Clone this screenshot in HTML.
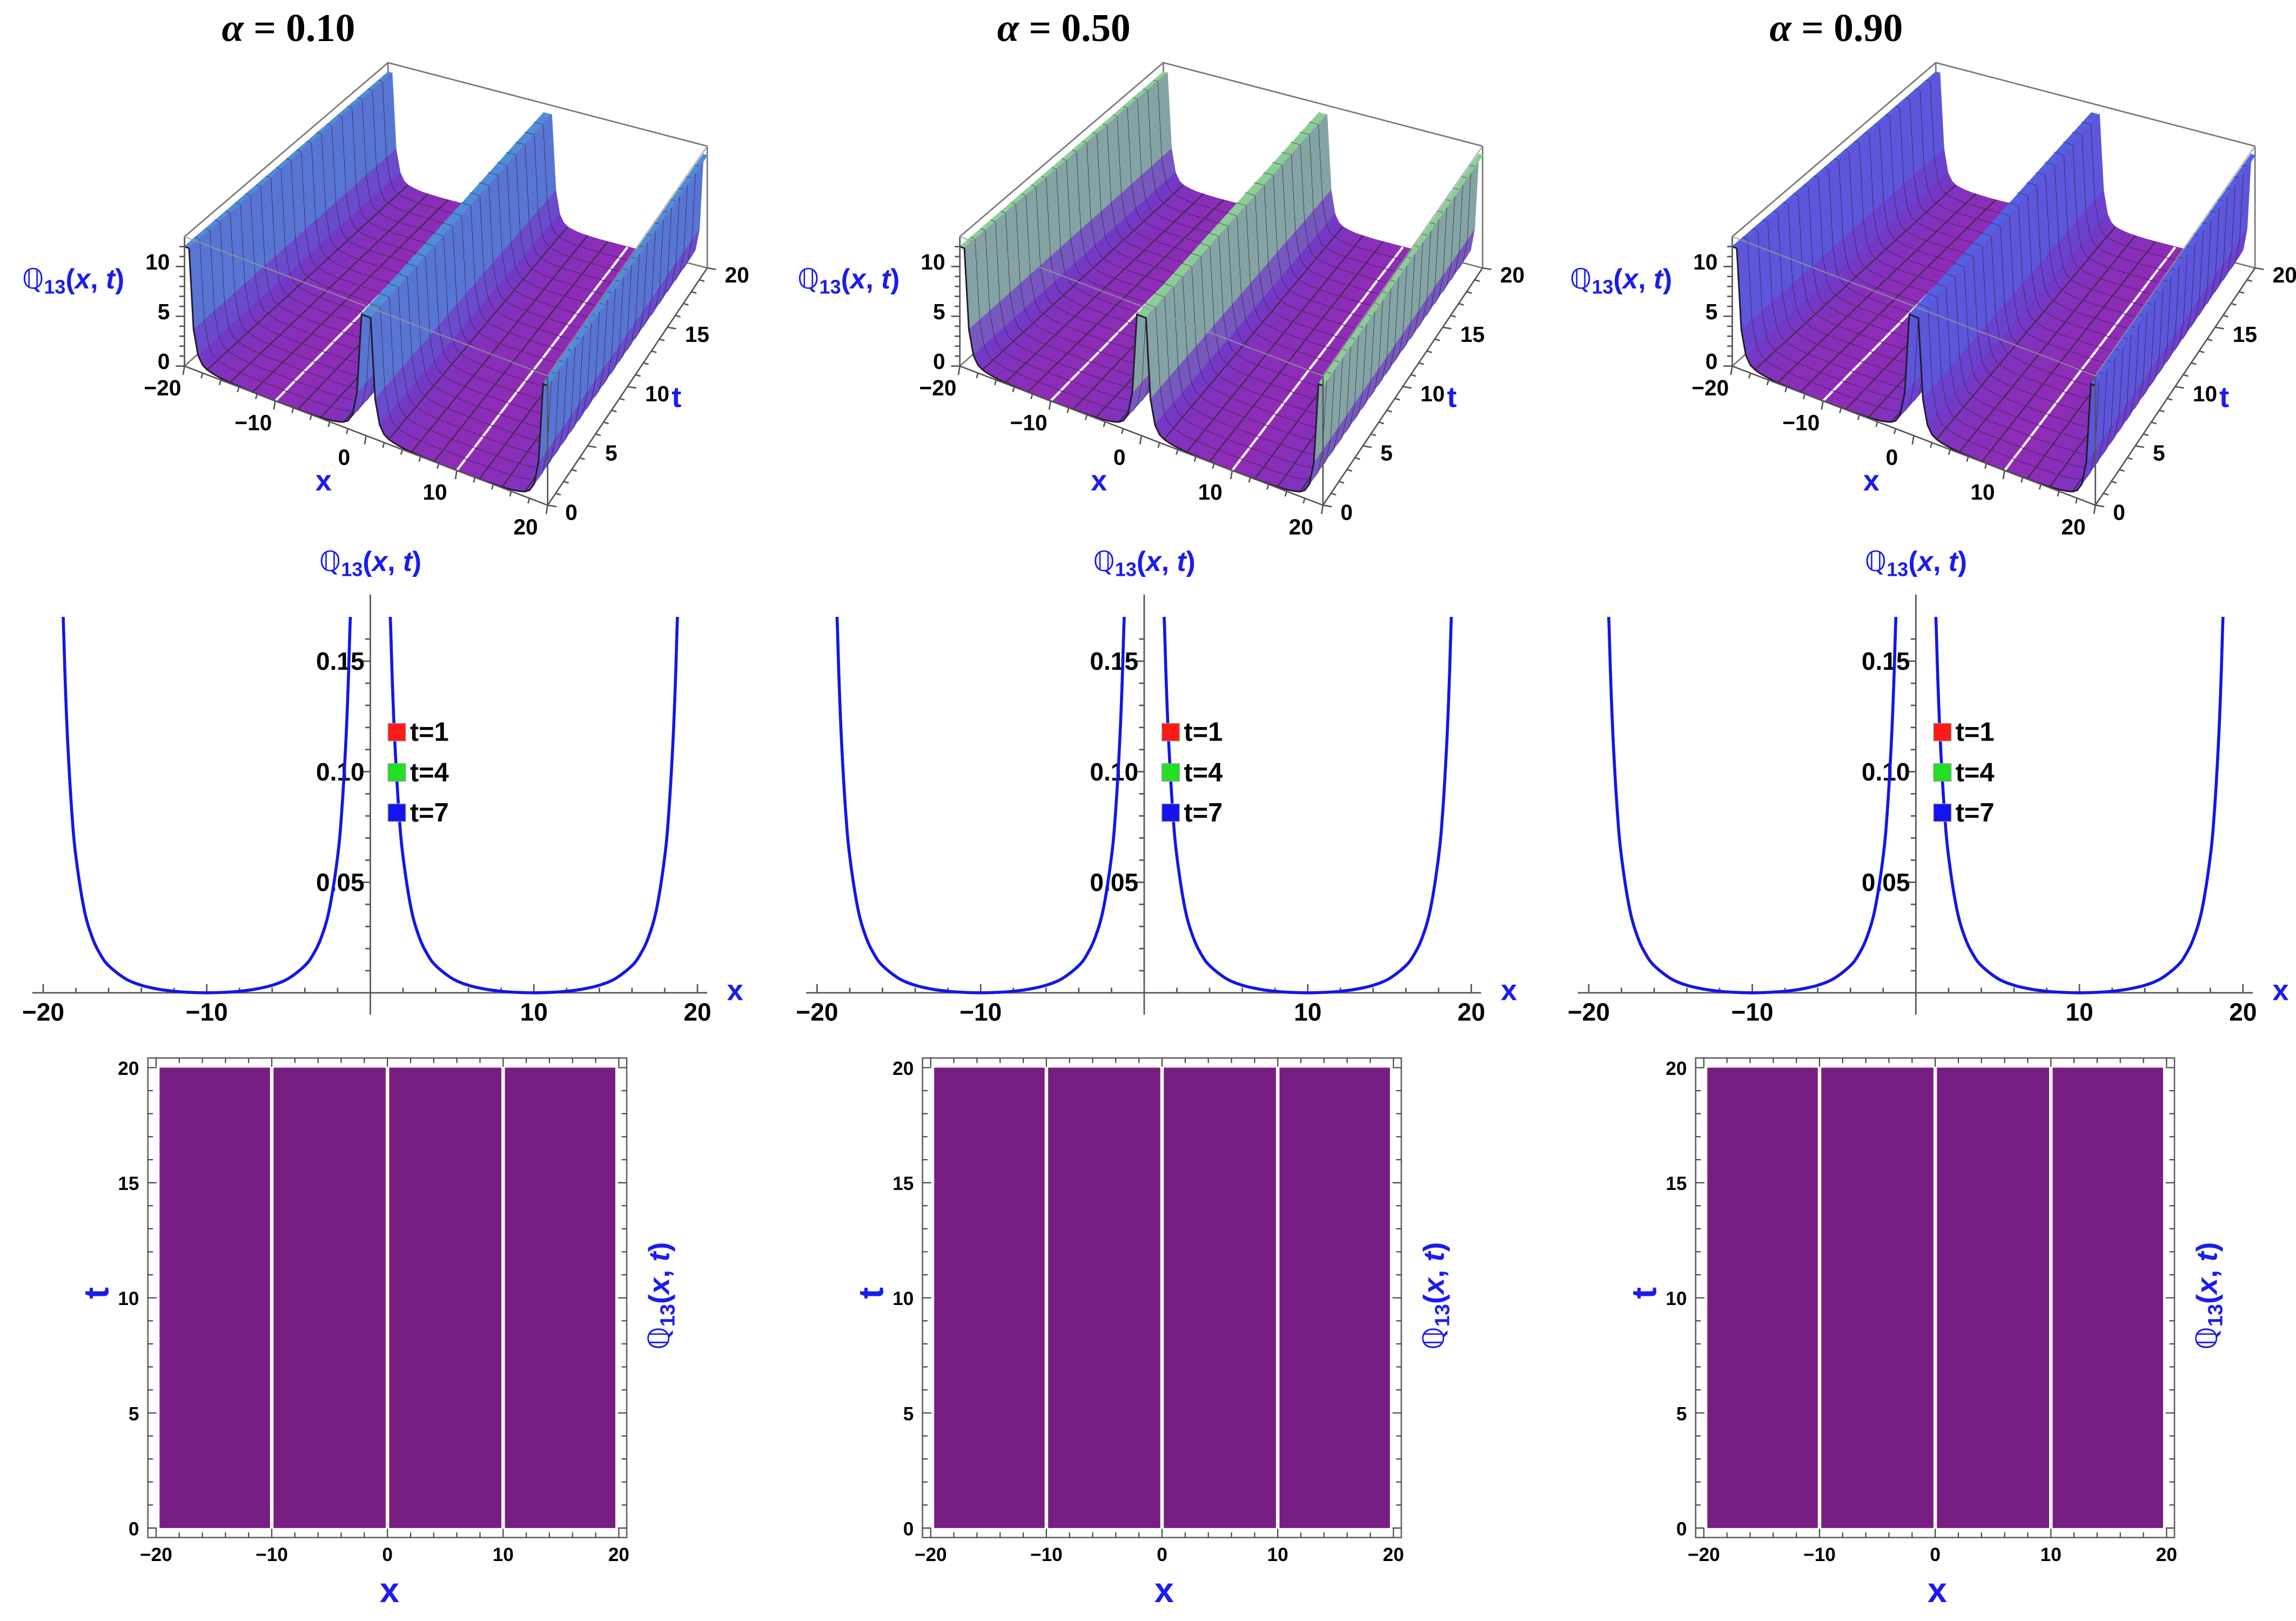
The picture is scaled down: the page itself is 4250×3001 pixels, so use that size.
<!DOCTYPE html>
<html><head><meta charset="utf-8"><title>Q13 plots</title>
<style>
html,body{margin:0;padding:0;background:#fff;}
svg{display:block;}
text{font-family:"Liberation Sans Narrow","Liberation Sans",sans-serif;font-weight:bold;}
.title{font-family:"Liberation Serif",serif;font-weight:bold;}
.blue{fill:#1b1bf0;}
</style></head>
<body>
<svg id="fig" xmlns="http://www.w3.org/2000/svg" width="4250" height="3001" viewBox="0 0 1568 1107" preserveAspectRatio="none"></svg>
<script>
// ---------- data ----------
const alphaLabels = ["0.10", "0.50", "0.90"];
const surfTopColors = [[80,140,215],[140,205,150],[85,95,225]];
// 3D surface height profile vs distance from nearest singular line (x = -20, 0, 20)
const surfDist = [0,0.5,1,1.5,2,2.5,3,3.5,4,4.5,5,5.5,6,6.5,7,7.5,8,8.5,9,9.5,10];
const surfZ    = [12,12,4,1.6,0.8,0.5,0.35,0.25,0.17,0.12,0.09,0.07,0.05,0.03,0.02,0.015,0.01,0.005,0,0,0];
// 2D profile: Q13 vs distance from the pole, same for t=1,4,7
const curveDist = [1.22,1.25,1.35,1.5,1.75,2,2.5,3,3.5,4,5,6,7,8,9,10];
const curveT1 = [0.170,0.164,0.140,0.113,0.0817,0.0616,0.0379,0.025,0.0173,0.0123,0.0065,0.0034,0.0017,0.0007,0.0002,0];
const curveT4 = [0.170,0.164,0.140,0.113,0.0817,0.0616,0.0379,0.025,0.0173,0.0123,0.0065,0.0034,0.0017,0.0007,0.0002,0];
const curveT7 = [0.170,0.164,0.140,0.113,0.0817,0.0616,0.0379,0.025,0.0173,0.0123,0.0065,0.0034,0.0017,0.0007,0.0002,0];
const legendLabels = ["t=1","t=4","t=7"];
const xTicks2D = [-20,-10,10,20];
const yTicks2D = [0.05,0.10,0.15];
const densityGaps = [-10,0,10];
const densityEdgeGap = 19.8;
const densityXTicks = [-20,-10,0,10,20];
const densityTTicks = [0,5,10,15,20];
const x3Ticks = [-20,-10,0,10,20];
const t3Ticks = [0,5,10,15,20];
const z3Ticks = [0,5,10];

// ---------- helpers ----------
const NS = "http://www.w3.org/2000/svg";
const svg = document.getElementById('fig');
function mk(tag, attrs, parent){
  const e = document.createElementNS(NS, tag);
  for (const k in attrs) e.setAttribute(k, attrs[k]);
  (parent||svg).appendChild(e);
  return e;
}
function qLabel(parent, x, y, size, rot){
  const t = mk('text', {x:x, y:y, 'font-size':size, 'text-anchor':'middle', class:'blue', transform: rot? `rotate(-90 ${x} ${y})` : ''}, parent);
  
  
  t.innerHTML = '<tspan style="font-family:DejaVu Sans;font-weight:normal">ℚ</tspan><tspan font-size="'+(size*0.7)+'" dy="'+(size*0.18)+'">13</tspan><tspan dy="'+(-size*0.18)+'">(</tspan><tspan font-style="italic">x</tspan>, <tspan font-style="italic">t</tspan>)';
  return t;
}
function lerp(a,b,f){return a+(b-a)*f;}
function interp(xs, ys, x){
  if (x<=xs[0]) return ys[0];
  for (let i=1;i<xs.length;i++){ if (x<=xs[i]) return lerp(ys[i-1],ys[i],(x-xs[i-1])/(xs[i]-xs[i-1])); }
  return ys[ys.length-1];
}

// ---------- 3D panels ----------
const A=[126,250], B=[374,345], C=[483,183], D=[265,126];
const ZMAX = 12, ZTOP = 13;
function proj(ox,x,t,z){
  const u=(x+20)/40, v=t/20;
  const px = A[0]*(1-u)*(1-v)+B[0]*u*(1-v)+C[0]*u*v+D[0]*(1-u)*v;
  const py = A[1]*(1-u)*(1-v)+B[1]*u*(1-v)+C[1]*u*v+D[1]*(1-u)*v;
  const zs = 6.8-0.4*v;
  return [ox+px, py - Math.min(z,ZTOP)*zs];
}
function zAt(x){
  const d = Math.min(Math.abs(x+20), Math.abs(x), Math.abs(20-x));
  return interp(surfDist, surfZ, d);
}
function pstr(pts){return pts.map(p=>p[0].toFixed(1)+','+p[1].toFixed(1)).join(' ');}
const panel3DOffsets = [0, 529.5, 1057];
panel3DOffsets.forEach((ox, pi)=>{
  const g = mk('g', {});
  
  
  const ttl = mk('text', {x:ox+197, y:28, 'font-size':27, 'text-anchor':'middle', class:'title'}, g);
  
  
  ttl.innerHTML = '<tspan font-style="italic">α</tspan> = '+alphaLabels[pi];
  const box = mk('g', {stroke:'#777', 'stroke-width':1, fill:'none'}, g);
  
  
  const Dt=proj(ox,-20,20,ZTOP), Ct=proj(ox,20,20,ZTOP), At=proj(ox,-20,0,ZTOP), Bt=proj(ox,20,0,ZTOP);
  const Db=proj(ox,-20,20,0), Cb=proj(ox,20,20,0), Ab=proj(ox,-20,0,0), Bb=proj(ox,20,0,0);
  mk('polyline', {points:pstr([At,Dt,Ct])}, box);
  mk('line', {x1:Dt[0],y1:Dt[1],x2:Db[0],y2:Db[1]}, box);
  mk('line', {x1:Ct[0],y1:Ct[1],x2:Cb[0],y2:Cb[1]}, box);
  mk('line', {x1:Db[0],y1:Db[1],x2:Cb[0],y2:Cb[1]}, box);
  mk('line', {x1:Db[0],y1:Db[1],x2:Ab[0],y2:Ab[1]}, box);
  const surf = mk('g', {}, g);
  
  
  const top = surfTopColors[pi];
  const floor=[142,44,182], mid=[112,58,200];
  function col(z){
    const h = Math.sqrt(Math.min(z,ZMAX)/ZMAX);
    let c;
    if (h<0.35){ const f=h/0.35; c=[lerp(floor[0],mid[0],f),lerp(floor[1],mid[1],f),lerp(floor[2],mid[2],f)]; }
    else { const f=(h-0.35)/0.65; c=[lerp(mid[0],top[0],f),lerp(mid[1],top[1],f),lerp(mid[2],top[2],f)]; }
    return 'rgb('+c.map(Math.round).join(',')+')';
  }
  const dx=0.5, dt=1;
  for (let t=20; t>0; t-=dt){
    const t0=t-dt, t1=t;
    let html='';
    for (let x=-20; x<20; x+=dx){
      const za=zAt(x), zb=zAt(x+dx);
      const pts=[proj(ox,x,t0,za),proj(ox,x+dx,t0,zb),proj(ox,x+dx,t1,zb),proj(ox,x,t1,za)];
      const c=col((za+zb)/2);
      html += '<polygon points="'+pstr(pts)+'" fill="'+c+'" stroke="'+c+'" stroke-width="0.6"/>';
    }
    for (let xm=-17.5; xm<20; xm+=2.5){
      if (Math.abs(xm)<0.01) continue;
      const z=zAt(xm);
      const p=proj(ox,xm,t0,z), q=proj(ox,xm,t1,z);
      const isW = Math.abs(Math.abs(xm)-10)<0.01;
      html += '<line x1="'+p[0].toFixed(1)+'" y1="'+p[1].toFixed(1)+'" x2="'+q[0].toFixed(1)+'" y2="'+q[1].toFixed(1)+'" stroke="'+(isW?'#fff':'#3a2a44')+'" stroke-width="'+(isW?1.6:0.8)+'"/>';
    }
    const line=[];
    for (let x=-20; x<=20.001; x+=dx) line.push(proj(ox,x,t0,zAt(x)));
    html += '<polyline points="'+pstr(line)+'" fill="none" stroke="#241a2c" stroke-width="1.1"/>';
    surf.insertAdjacentHTML('beforeend', html);
  }
  const ax = mk('g', {stroke:'#555', 'stroke-width':1, fill:'none'}, g);
  
  
  mk('line', {x1:Ab[0],y1:Ab[1],x2:Bb[0],y2:Bb[1]}, ax);
  mk('line', {x1:Bb[0],y1:Bb[1],x2:Cb[0],y2:Cb[1]}, ax);
  mk('line', {x1:Ab[0],y1:Ab[1],x2:At[0],y2:At[1]}, ax);
  mk('line', {x1:Bb[0],y1:Bb[1],x2:Bt[0],y2:Bt[1]}, ax);
  mk('polyline', {points:pstr([At,Bt,Ct]), stroke:'#999', opacity:0.7}, ax);
  for (let x=-20;x<=20;x+=2){ const p=proj(ox,x,0,0); mk('line',{x1:p[0],y1:p[1],x2:p[0]-1,y2:p[1]+(x%10===0?6:3.5)},ax); }
  for (let t=0;t<=20;t+=1){ const p=proj(ox,20,t,0); mk('line',{x1:p[0],y1:p[1],x2:p[0]+(t%5===0?6:3.5),y2:p[1]+1},ax); }
  for (let z=0;z<=12;z+=1){ const p=proj(ox,-20,0,z); mk('line',{x1:p[0],y1:p[1],x2:p[0]-(z%5===0?6:3.5),y2:p[1]},ax); }
  x3Ticks.forEach(v=>{ const p=proj(ox,v,0,0); const tx=mk('text',{x:p[0]-15,y:p[1]+20,'font-size':15,'text-anchor':'middle'},g); tx.textContent=String(v).replace('-','−');
      });
  t3Ticks.forEach(v=>{ const p=proj(ox,20,v,0); const tx=mk('text',{x:p[0]+12,y:p[1]+10,'font-size':15,'text-anchor':'start'},g); tx.textContent=v;
      });
  z3Ticks.forEach(v=>{ const p=proj(ox,-20,0,v); const tx=mk('text',{x:p[0]-10,y:p[1]+2,'font-size':15,'text-anchor':'end'},g); tx.textContent=v;
      });
  const xl=mk('text',{x:ox+221,y:335,'font-size':20,'text-anchor':'middle',class:'blue'},g); xl.textContent='x';
   
  const tl=mk('text',{x:ox+462,y:278,'font-size':20,'text-anchor':'middle',class:'blue'},g); tl.textContent='t';
   
  qLabel(g, ox+50, 197, 19, false);
});

// ---------- 2D line panels ----------
const panel2DOffsets = [0, 528.5, 1055.5];
const seriesColors = ['#ff1a1a','#22e022','#1414ee'];
const seriesData = [curveT1, curveT4, curveT7];
function X2(ox,x){return ox+252.9+x*11.17;}
function Y2(v){return 678 - v*1510;}
function smoothPath(pts){
  let d='M'+pts[0][0].toFixed(2)+','+pts[0][1].toFixed(2);
  for (let i=0;i<pts.length-1;i++){
    const p0=pts[Math.max(0,i-1)], p1=pts[i], p2=pts[i+1], p3=pts[Math.min(pts.length-1,i+2)];
    const c1=[p1[0]+(p2[0]-p0[0])/6, p1[1]+(p2[1]-p0[1])/6];
    const c2=[p2[0]-(p3[0]-p1[0])/6, p2[1]-(p3[1]-p1[1])/6];
    d+=' C'+c1[0].toFixed(2)+','+c1[1].toFixed(2)+' '+c2[0].toFixed(2)+','+c2[1].toFixed(2)+' '+p2[0].toFixed(2)+','+p2[1].toFixed(2);
  }
  return d;
}
panel2DOffsets.forEach((ox, pi)=>{
  const g = mk('g', {});
  
  
  const ax = mk('g', {stroke:'#555', 'stroke-width':1}, g);
  
  
  mk('line', {x1:ox+22, y1:Y2(0), x2:ox+483, y2:Y2(0)}, ax);
  mk('line', {x1:X2(ox,0), y1:406, x2:X2(ox,0), y2:693}, ax);
  for (let x=-20;x<=20;x+=2){ if(x===0)continue; const mj=x%10===0; mk('line',{x1:X2(ox,x),y1:Y2(0),x2:X2(ox,x),y2:Y2(0)-(mj?6:3.5)},ax); }
  for (let k=1;k<=16;k++){ const v=k*0.01; const mj=(k%5===0); mk('line',{x1:X2(ox,0),y1:Y2(v),x2:X2(ox,0)-(mj?6:3.5),y2:Y2(v)},ax); }
  xTicks2D.forEach(v=>{ const tx=mk('text',{x:X2(ox,v),y:697,'font-size':17,'text-anchor':'middle'},g); tx.textContent=String(v).replace('-','−');
      });
  yTicks2D.forEach(v=>{ const tx=mk('text',{x:X2(ox,0)-4,y:Y2(v)+6,'font-size':17,'text-anchor':'end'},g); tx.textContent=v.toFixed(2);
      });
  const xl=mk('text',{x:ox+502,y:683,'font-size':20,'text-anchor':'middle',class:'blue'},g); xl.textContent='x';
   
  qLabel(g, X2(ox,0), 390, 19, false);
  seriesData.forEach((vals, si)=>{
    const branches = [[-20,0],[0,20]];
    branches.forEach(([lo,hi])=>{
      const pts=[];
      for (let i=0;i<curveDist.length;i++) pts.push([X2(ox,lo+curveDist[i]), Y2(vals[i])]);
      for (let i=curveDist.length-2;i>=0;i--) pts.push([X2(ox,hi-curveDist[i]), Y2(vals[i])]);
      const p=mk('path',{d:smoothPath(pts),fill:'none',stroke:seriesColors[si],'stroke-width':2},g);
      
      
    });
  });
  const lg = mk('g', {}, g);
  
  
  legendLabels.forEach((lab, si)=>{
    const y = 500 + si*27.5;
    const r=mk('rect',{x:ox+265,y:y-6,width:12,height:12,fill:seriesColors[si],stroke:'#999','stroke-width':0.5},lg);
     
    const tx=mk('text',{x:ox+280,y:y+6,'font-size':18},lg); tx.textContent=lab;
     
  });
});

// ---------- density panels ----------
const panelDOffsets = [0, 529, 1057];
const FL = 101, FR = 428;
function XD(ox,x){return ox+264.6+x*7.9;}
function YD(t){return 1043.5 - t*15.72;}
panelDOffsets.forEach((ox, pi)=>{
  const g = mk('g', {});
  
  
  const r=mk('rect',{x:XD(ox,-19.7),y:YD(20),width:XD(ox,19.7)-XD(ox,-19.7),height:YD(0)-YD(20),fill:'#781e82'},g);
   
  densityGaps.forEach(v=>{ const l=mk('line',{x1:XD(ox,v),y1:YD(20)-1,x2:XD(ox,v),y2:YD(0)+1,stroke:'#fff','stroke-width':2.4},g);
      });
  const le=mk('line',{x1:XD(ox,densityEdgeGap),y1:YD(20),x2:XD(ox,densityEdgeGap),y2:YD(0),stroke:'#fff','stroke-width':1},g);
   
  const fr=mk('rect',{x:ox+FL,y:722.5,width:FR-FL,height:327.5,fill:'none',stroke:'#666','stroke-width':1},g);
   
  const tk=mk('g',{stroke:'#444','stroke-width':0.8},g);
  for (let x=-20;x<=20;x+=2){ const mj=x%10===0, L=mj?6:3.5;
    mk('line',{x1:XD(ox,x),y1:1050,x2:XD(ox,x),y2:1050-L},tk); mk('line',{x1:XD(ox,x),y1:722.5,x2:XD(ox,x),y2:722.5+L},tk); }
  for (let t=0;t<=20;t+=1){ const mj=t%5===0, L=mj?6:3.5;
    mk('line',{x1:ox+FL,y1:YD(t),x2:ox+FL+L,y2:YD(t)},tk); mk('line',{x1:ox+FR,y1:YD(t),x2:ox+FR-L,y2:YD(t)},tk); }
  densityXTicks.forEach(v=>{ const tx=mk('text',{x:XD(ox,v),y:1066,'font-size':13,'text-anchor':'middle'},g); tx.textContent=String(v).replace('-','−');
      });
  densityTTicks.forEach(v=>{ const tx=mk('text',{x:ox+FL-6,y:YD(v)+5,'font-size':13,'text-anchor':'end'},g); tx.textContent=v;
      });
  const xl=mk('text',{x:ox+266,y:1094,'font-size':24,'text-anchor':'middle',class:'blue'},g); xl.textContent='x';
   
  const tl=mk('text',{x:ox+66,y:883,'font-size':24,'text-anchor':'middle',class:'blue',transform:`rotate(-90 ${ox+66} 883)`,dy:8},g); tl.textContent='t';
   
  qLabel(g, ox+457, 885, 20, true);
});
</script>
</body></html>
